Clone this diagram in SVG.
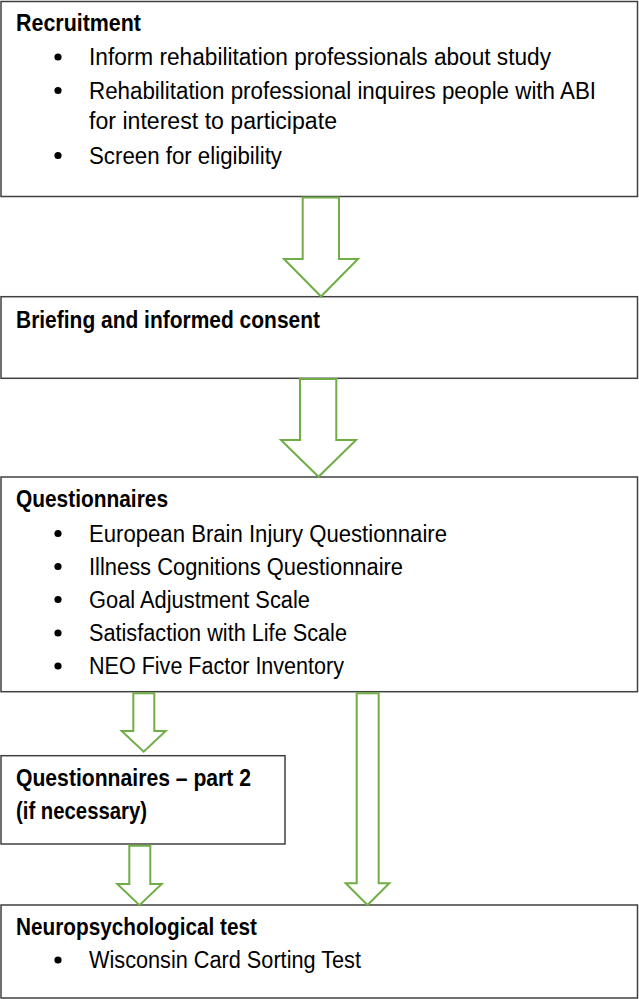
<svg xmlns="http://www.w3.org/2000/svg" width="639" height="999" viewBox="0 0 639 999">
<style>
.box{fill:#fff;stroke:#404040;stroke-width:1.5}
.arr{fill:#fff;stroke:#70ad47;stroke-width:2;stroke-linejoin:miter}
.h{font-family:"Liberation Sans",Arial,sans-serif;font-weight:bold;font-size:23.5px;fill:#000}
.t{font-family:"Liberation Sans",Arial,sans-serif;font-size:23.5px;fill:#000}
.b{fill:#000}
</style>
<rect x="0" y="0" width="639" height="999" fill="#fff"/>
<g id="recruitment">
<rect class="box" x="1" y="1.5" width="636.5" height="195"/>
<text class="h" x="16" y="31" textLength="125" lengthAdjust="spacingAndGlyphs">Recruitment</text>
<circle class="b" cx="58" cy="57" r="3.6"/>
<text class="t" x="89" y="65" textLength="462" lengthAdjust="spacingAndGlyphs">Inform rehabilitation professionals about study</text>
<circle class="b" cx="58" cy="90.5" r="3.6"/>
<text class="t" x="89" y="98.5" textLength="507" lengthAdjust="spacingAndGlyphs">Rehabilitation professional inquires people with ABI</text>
<text class="t" x="89" y="129" textLength="248" lengthAdjust="spacingAndGlyphs">for interest to participate</text>
<circle class="b" cx="58" cy="155.5" r="3.6"/>
<text class="t" x="89" y="163.5" textLength="193" lengthAdjust="spacingAndGlyphs">Screen for eligibility</text>
</g>
<g id="briefing">
<rect class="box" x="1" y="296.7" width="636.5" height="81.6"/>
<text class="h" x="16" y="328.3" textLength="304" lengthAdjust="spacingAndGlyphs">Briefing and informed consent</text>
</g>
<g id="questionnaires">
<rect class="box" x="1" y="477" width="636.5" height="214.7"/>
<text class="h" x="16" y="507" textLength="152" lengthAdjust="spacingAndGlyphs">Questionnaires</text>
<circle class="b" cx="58" cy="533.5" r="3.6"/>
<text class="t" x="89" y="541.7" textLength="358" lengthAdjust="spacingAndGlyphs">European Brain Injury Questionnaire</text>
<circle class="b" cx="58" cy="566.5" r="3.6"/>
<text class="t" x="89" y="574.5" textLength="314" lengthAdjust="spacingAndGlyphs">Illness Cognitions Questionnaire</text>
<circle class="b" cx="58" cy="599.5" r="3.6"/>
<text class="t" x="89" y="607.5" textLength="221" lengthAdjust="spacingAndGlyphs">Goal Adjustment Scale</text>
<circle class="b" cx="58" cy="633" r="3.6"/>
<text class="t" x="89" y="641" textLength="258" lengthAdjust="spacingAndGlyphs">Satisfaction with Life Scale</text>
<circle class="b" cx="58" cy="666" r="3.6"/>
<text class="t" x="89" y="674" textLength="255" lengthAdjust="spacingAndGlyphs">NEO Five Factor Inventory</text>
</g>
<g id="questionnaires2">
<rect class="box" x="1" y="755.7" width="284" height="88.3"/>
<text class="h" x="16" y="785.7" textLength="235" lengthAdjust="spacingAndGlyphs">Questionnaires – part 2</text>
<text class="h" x="16" y="818.5" textLength="131" lengthAdjust="spacingAndGlyphs">(if necessary)</text>
</g>
<g id="neuro">
<rect class="box" x="1" y="905" width="636.5" height="93"/>
<text class="h" x="16" y="935" textLength="241" lengthAdjust="spacingAndGlyphs">Neuropsychological test</text>
<circle class="b" cx="58" cy="960" r="3.6"/>
<text class="t" x="89" y="968" textLength="272" lengthAdjust="spacingAndGlyphs">Wisconsin Card Sorting Test</text>
</g>
<g id="connectors">
<polygon class="arr" points="302.7,197.5 339,197.5 339,259 358,259 321,296.5 284,259 302.7,259"/>
<polygon class="arr" points="300,379 336.3,379 336.3,440 356,440 318.5,476.8 281,440 300,440"/>
<polygon class="arr" points="133.3,693.3 154.3,693.3 154.3,731 165.7,731 143.7,751.7 121.7,731 133.3,731"/>
<polygon class="arr" points="129.3,845.7 150.3,845.7 150.3,884 161.7,884 139.5,905.2 117.3,884 129.3,884"/>
<polygon class="arr" points="356.7,693.3 378.7,693.3 378.7,883.3 389.3,883.3 367.5,905 345.7,883.3 356.7,883.3"/>
</g>
</svg>
